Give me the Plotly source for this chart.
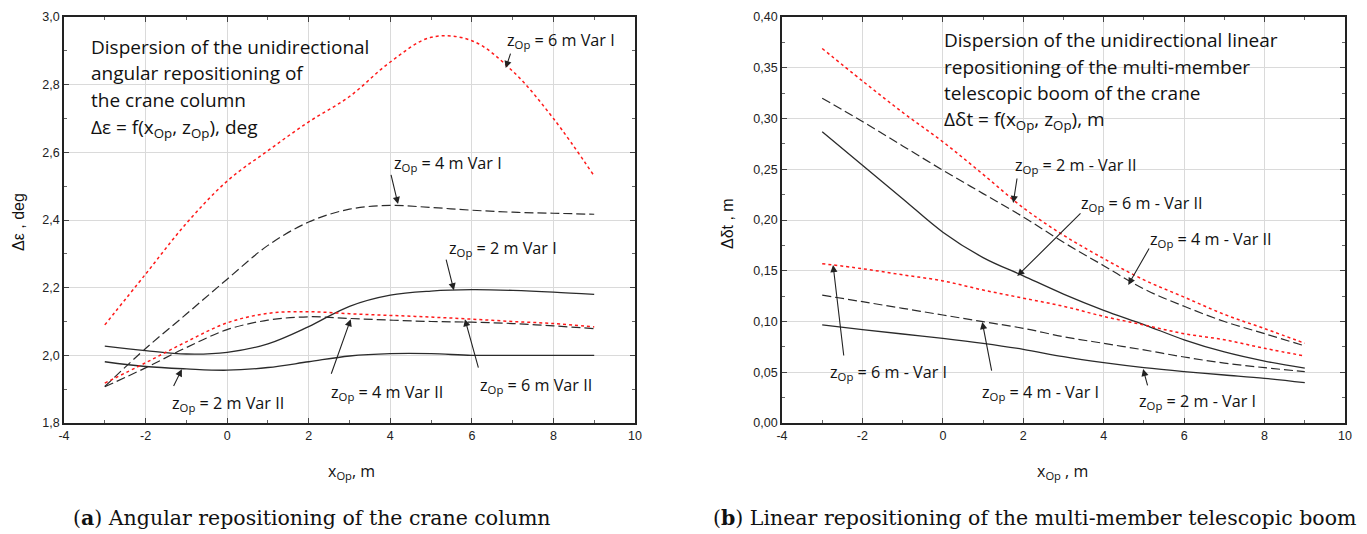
import plotly.graph_objects as go

# ---------------- data ----------------
X_OP = [-3, -2, -1, 0, 1, 2, 3, 4, 5, 6, 7, 8, 9]

# (a) angular repositioning, deg
EPS_Z6_VAR1 = [2.09, 2.24, 2.39, 2.515, 2.605, 2.69, 2.765, 2.867, 2.94, 2.93, 2.84, 2.70, 2.53]
EPS_Z4_VAR1 = [1.908, 2.02, 2.122, 2.225, 2.325, 2.394, 2.432, 2.443, 2.437, 2.429, 2.423, 2.42, 2.417]
EPS_Z2_VAR1 = [2.027, 2.014, 2.004, 2.009, 2.034, 2.085, 2.145, 2.178, 2.19, 2.194, 2.192, 2.187, 2.18]
EPS_Z2_VAR2 = [1.981, 1.967, 1.96, 1.956, 1.964, 1.981, 1.998, 2.005, 2.005, 2.0, 2.0, 2.0, 2.0]
EPS_Z6_VAR2 = [1.918, 1.978, 2.04, 2.096, 2.124, 2.129, 2.123, 2.118, 2.113, 2.107, 2.10, 2.094, 2.084]
EPS_Z4_VAR2 = [1.907, 1.963, 2.023, 2.076, 2.104, 2.114, 2.109, 2.104, 2.10, 2.098, 2.094, 2.087, 2.079]

# (b) linear repositioning, m
DT_Z2_VAR2 = [0.369, 0.337, 0.306, 0.277, 0.245, 0.212, 0.185, 0.162, 0.141, 0.124, 0.107, 0.093, 0.0785]
DT_Z4_VAR2 = [0.320, 0.297, 0.273, 0.249, 0.226, 0.203, 0.178, 0.155, 0.132, 0.115, 0.100, 0.088, 0.076]
DT_Z6_VAR2 = [0.287, 0.254, 0.221, 0.188, 0.163, 0.145, 0.127, 0.111, 0.097, 0.082, 0.070, 0.061, 0.054]
DT_Z6_VAR1 = [0.157, 0.152, 0.146, 0.140, 0.131, 0.123, 0.115, 0.105, 0.0966, 0.088, 0.082, 0.0736, 0.066]
DT_Z4_VAR1 = [0.126, 0.1195, 0.113, 0.1064, 0.0998, 0.0933, 0.085, 0.0785, 0.072, 0.065, 0.059, 0.0545, 0.0506]
DT_Z2_VAR1 = [0.0966, 0.092, 0.0877, 0.0834, 0.0785, 0.0726, 0.0653, 0.0594, 0.0545, 0.0506, 0.0473, 0.044, 0.0397]

X_TICKS = [-4, -2, 0, 2, 4, 6, 8, 10]
X_TICK_TEXT = ["-4", "-2", "0", "2", "4", "6", "8", "10"]

RED = "#ff1a1a"
BLACK = "#2b2b2b"
SOLID = dict(color=BLACK, width=1.3)
DASHED = dict(color=BLACK, width=1.2, dash="9px,4px")
DOTTED = dict(color=RED, width=1.5, dash="dot")

TXT_FONT = "Open Sans, Lato, sans-serif"

fig = go.Figure()

left_series = [
    (EPS_Z6_VAR1, DOTTED), (EPS_Z4_VAR1, DASHED), (EPS_Z2_VAR1, SOLID),
    (EPS_Z2_VAR2, SOLID), (EPS_Z6_VAR2, DOTTED), (EPS_Z4_VAR2, DASHED),
]
for ys, ln in left_series:
    fig.add_trace(go.Scatter(x=X_OP, y=ys, mode="lines", line=dict(shape="spline", **ln),
                             xaxis="x", yaxis="y", showlegend=False))

right_series = [
    (DT_Z2_VAR2, DOTTED), (DT_Z4_VAR2, DASHED), (DT_Z6_VAR2, SOLID),
    (DT_Z6_VAR1, DOTTED), (DT_Z4_VAR1, DASHED), (DT_Z2_VAR1, SOLID),
]
for ys, ln in right_series:
    fig.add_trace(go.Scatter(x=X_OP, y=ys, mode="lines", line=dict(shape="spline", **ln),
                             xaxis="x2", yaxis="y2", showlegend=False))

# ---------------- axes ----------------
axis_common = dict(
    showgrid=True, gridcolor="#dadada", gridwidth=1,
    showline=True, linecolor="#222", linewidth=1.6, mirror="allticks",
    ticks="inside", ticklen=5, tickcolor="#444",
    zeroline=False, automargin=False,
    tickfont=dict(family="Liberation Sans, Arial", size=12.5, color="#222"),
)
xmin = dict(tickmode="linear", tick0=0, dtick=1, ticks="inside", ticklen=3, tickcolor="#666", showgrid=False)

fig.update_layout(
    xaxis=dict(domain=[64 / 1367, 635 / 1367], range=[-4, 10], anchor="y",
               tickmode="array", tickvals=X_TICKS, ticktext=X_TICK_TEXT, minor=xmin, **axis_common),
    yaxis=dict(domain=[111 / 534, 517 / 534], range=[1.8, 3.0], anchor="x",
               dtick=0.2, tick0=1.8, tickformat=".1f",
               minor=dict(tickmode="linear", tick0=1.8, dtick=0.1, ticks="inside", ticklen=3,
                          tickcolor="#666", showgrid=False), **axis_common),
    xaxis2=dict(domain=[782 / 1367, 1345 / 1367], range=[-4, 10], anchor="y2",
                tickmode="array", tickvals=X_TICKS, ticktext=X_TICK_TEXT, minor=xmin, **axis_common),
    yaxis2=dict(domain=[111 / 534, 517 / 534], range=[0, 0.40], anchor="x2",
                dtick=0.05, tick0=0, tickformat=".2f",
                minor=dict(tickmode="linear", tick0=0, dtick=0.025, ticks="inside", ticklen=3,
                           tickcolor="#666", showgrid=False), **axis_common),
    separators=",.",
    width=1367, height=534,
    margin=dict(l=0, r=0, t=0, b=0),
    paper_bgcolor="white", plot_bgcolor="white",
    font=dict(family=TXT_FONT, color="#111"),
)

# ---------------- annotations ----------------
ann = []


def text(xr, yr, x, y, s, size=16.2, xanchor="center"):
    ann.append(dict(xref=xr, yref=yr, x=x, y=y, text=s, showarrow=False,
                    xanchor=xanchor, yanchor="middle",
                    font=dict(family=TXT_FONT, size=size, color="#111")))


def arrow(xr, yr, tip, tail):
    ann.append(dict(xref=xr, yref=yr, axref=xr, ayref=yr, x=tip[0], y=tip[1],
                    ax=tail[0], ay=tail[1], text="", showarrow=True,
                    arrowhead=2, arrowsize=1.3, arrowwidth=1.1, arrowcolor="#222"))


def paper_text(px, py, s, size, family=TXT_FONT, angle=0):
    ann.append(dict(xref="paper", yref="paper", x=px / 1367, y=1 - py / 534, text=s,
                    xanchor="center", yanchor="middle", textangle=angle, showarrow=False,
                    font=dict(family=family, size=size, color="#111")))


Z = "z<sub>Op</sub>"

# (a)
for yv, s in zip([2.911, 2.834, 2.754, 2.672],
                 ["Dispersion of the unidirectional", "angular repositioning of",
                  "the crane column", "Δε = f(x<sub>Op</sub>, z<sub>Op</sub>), deg"]):
    text("x", "y", -3.38, yv, s, size=19, xanchor="left")

text("x", "y", 8.18, 2.932, Z + " = 6 m Var I")
arrow("x", "y", (6.83, 2.849), (6.96, 2.896))
text("x", "y", 5.41, 2.568, Z + " = 4 m Var I")
arrow("x", "y", (4.19, 2.447), (4.01, 2.538))
text("x", "y", 6.76, 2.317, Z + " = 2 m Var I")
arrow("x", "y", (5.56, 2.192), (5.36, 2.287))
text("x", "y", 0.02, 1.858, Z + " = 2 m Var II")
arrow("x", "y", (-1.11, 1.959), (-1.33, 1.905))
text("x", "y", 3.92, 1.891, Z + " = 4 m Var II")
arrow("x", "y", (3.03, 2.107), (2.54, 1.941))
text("x", "y", 7.57, 1.911, Z + " = 6 m Var II")
arrow("x", "y", (5.83, 2.107), (6.17, 1.959))

# (b)
for yv, s in zip([0.3773, 0.3507, 0.3251, 0.2985],
                 ["Dispersion of the unidirectional linear", "repositioning of the multi-member",
                  "telescopic boom of the crane", "Δδt = f(x<sub>Op</sub>, z<sub>Op</sub>), m"]):
    text("x2", "y2", -0.02, yv, s, size=19, xanchor="left")

text("x2", "y2", 3.31, 0.2532, Z + " = 2 m - Var II")
arrow("x2", "y2", (1.75, 0.2167), (1.85, 0.2424))
text("x2", "y2", 4.96, 0.2167, Z + " = 6 m - Var II")
arrow("x2", "y2", (1.85, 0.1448), (3.46, 0.2079))
text("x2", "y2", 6.67, 0.1803, Z + " = 4 m - Var II")
arrow("x2", "y2", (4.61, 0.136), (5.15, 0.1734))
text("x2", "y2", -1.34, 0.0493, Z + " = 6 m - Var I")
arrow("x2", "y2", (-2.73, 0.1557), (-2.46, 0.065))
text("x2", "y2", 2.42, 0.0296, Z + " = 4 m - Var I")
arrow("x2", "y2", (0.98, 0.0995), (1.22, 0.0502))
text("x2", "y2", 6.32, 0.0207, Z + " = 2 m - Var I")
arrow("x2", "y2", (4.98, 0.0532), (5.10, 0.0355))

# axis titles
paper_text(18, 222, "Δε , deg", 16, "Liberation Sans, Arial", -90)
paper_text(727, 223, "Δδt , m", 16, "Liberation Sans, Arial", -90)
paper_text(351, 471, "x<sub>Op</sub>, m", 16)
paper_text(1062, 471, "x<sub>Op</sub> , m", 16)

# captions
paper_text(312, 518, "(<b>a</b>) Angular repositioning of the crane column", 20.5, "DejaVu Serif, serif")
paper_text(1034, 518, "(<b>b</b>) Linear repositioning of the multi-member telescopic boom", 20.5,
           "DejaVu Serif, serif")

fig.update_layout(annotations=ann)

fig.write_html("out.html", config={"displayModeBar": False},
               post_script="document.body.style.margin='0';")
